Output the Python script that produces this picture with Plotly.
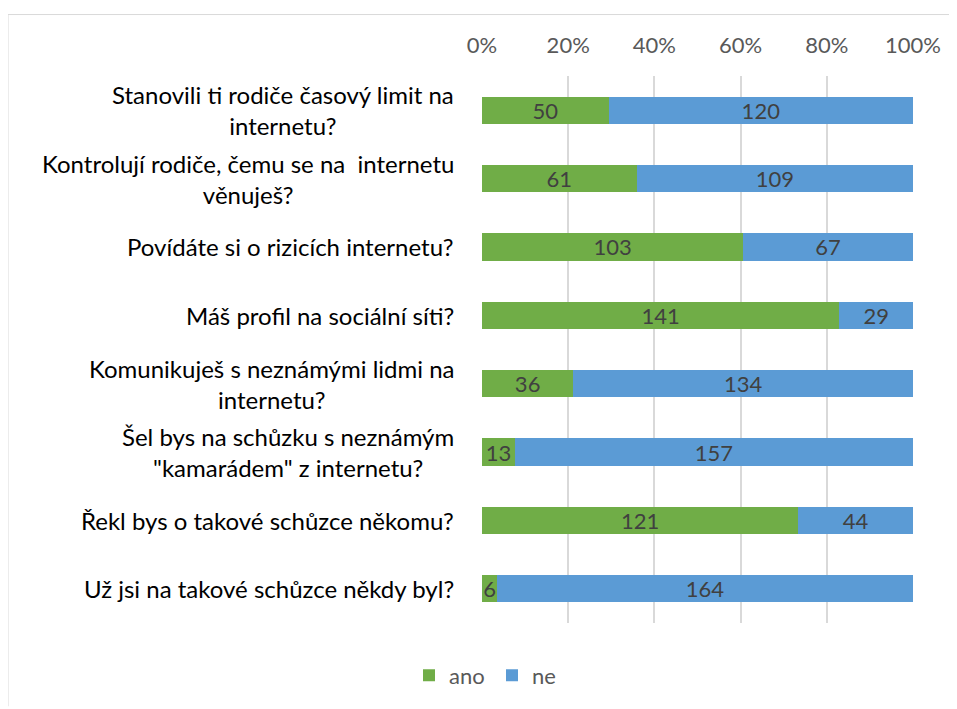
import plotly.graph_objects as go

categories = [
    "Stanovili ti rodiče časový limit na<br>internetu?",
    "Kontrolují rodiče, čemu se na\u00a0 internetu<br>věnuješ?",
    "Povídáte si o rizicích internetu?",
    "Máš profil na sociální síti?",
    "Komunikuješ s neznámými lidmi na<br>internetu?",
    "Šel bys na schůzku s neznámým<br>\"kamarádem\" z internetu?",
    "Řekl bys o takové schůzce někomu?",
    "Už jsi na takové schůzce někdy byl?",
]
ano = [50, 61, 103, 141, 36, 13, 121, 6]
ne = [120, 109, 67, 29, 134, 157, 44, 164]
tick_vals = [0, 20, 40, 60, 80, 100]
tick_text = ["0%", "20%", "40%", "60%", "80%", "100%"]

FONT = "Lato"
ids = list(range(len(categories)))

fig = go.Figure()
fig.add_trace(go.Bar(
    y=ids, x=ano, name="ano", orientation="h",
    marker=dict(color="#70AD47", line=dict(width=0)),
    text=[str(v) for v in ano], textposition="inside", insidetextanchor="middle",
    textangle=0, constraintext="none",
    textfont=dict(family=FONT, size=22, color="#404040"),
))
fig.add_trace(go.Bar(
    y=ids, x=ne, name="ne", orientation="h",
    marker=dict(color="#5B9BD5", line=dict(width=0)),
    text=[str(v) for v in ne], textposition="inside", insidetextanchor="middle",
    textangle=0, constraintext="none",
    textfont=dict(family=FONT, size=22, color="#404040"),
))

# page body has an 8px margin: work in page coords minus 8
OFF = 8
W, H = 957 - OFF, 709 - OFF
L = 482 - OFF
R = W - (913 - OFF)
T = 76 - OFF
B = H - (628 - OFF)
pw = W - L - R
ph = H - T - B

annotations = []
for i, c in enumerate(categories):
    annotations.append(dict(
        x=0, xref="paper", y=i, yref="y", text=c, showarrow=False,
        xanchor="right", yanchor="middle", align="center", xshift=-26,
        font=dict(family=FONT, size=24, color="#000000"),
    ))

def px_x(p):
    return (p - OFF - L) / pw

def px_y(p):
    return (H - B - (p - OFF)) / ph

shapes = [
    dict(type="line", xref="paper", yref="paper", x0=px_x(8), x1=px_x(960),
         y0=px_y(14), y1=px_y(14), line=dict(color="#D9D9D9", width=1)),
    dict(type="line", xref="paper", yref="paper", x0=px_x(8), x1=px_x(8),
         y0=px_y(14), y1=px_y(712), line=dict(color="#D9D9D9", width=1)),
]

fig.update_layout(
    width=W, height=H,
    barmode="stack", barnorm="percent", bargap=0.6,
    margin=dict(l=L, r=R, t=T, b=B),
    paper_bgcolor="white", plot_bgcolor="white",
    font=dict(family=FONT, color="#595959"),
    xaxis=dict(side="top", range=[0, 100], tickvals=tick_vals, ticktext=tick_text,
               showgrid=True, gridcolor="#D9D9D9", gridwidth=1.5, zeroline=False,
               tickfont=dict(family=FONT, size=22, color="#595959"),
               ticks="", ticklabelstandoff=18, fixedrange=True),
    yaxis=dict(tickvals=ids, showticklabels=False,
               showgrid=False, zeroline=False, range=[7.5, -0.5], autorange=False),
    legend=dict(orientation="h", x=px_x(492), xanchor="center", y=px_y(681), yanchor="middle",
                font=dict(family=FONT, size=22, color="#595959"), traceorder="normal",
                itemwidth=30, entrywidth=38, entrywidthmode="pixels"),
    annotations=annotations,
    shapes=shapes,
    showlegend=True,
)

fig.write_html("out.html")
